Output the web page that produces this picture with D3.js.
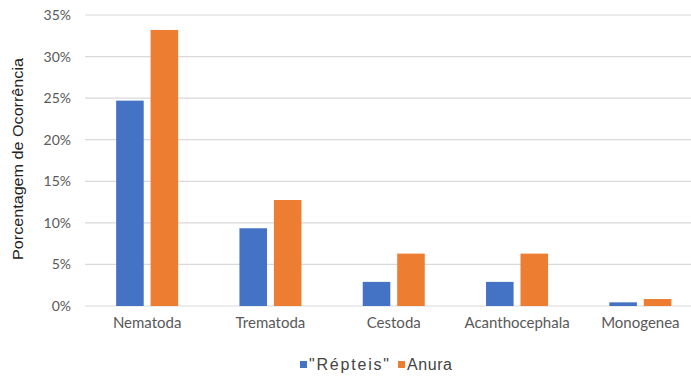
<!DOCTYPE html>
<html>
<head>
<meta charset="utf-8">
<script src="https://cdn.jsdelivr.net/npm/d3@7"></script>
<style>
  html, body { margin: 0; padding: 0; background: #fff; }
  svg { display: block; }
</style>
</head>
<body>
<svg id="chart" width="691" height="377"></svg>
<script>
// Parasite groups and their occurrence (%) in each host group
const categories = ["Nematoda", "Trematoda", "Cestoda", "Acanthocephala", "Monogenea"];
const seriesNames = ["\"Répteis\"", "Anura"];
const repteis = [24.7, 9.35, 2.9, 2.9, 0.44];
const anura = [33.2, 12.75, 6.3, 6.3, 0.84];
const yTicks = [0, 5, 10, 15, 20, 25, 30, 35];
const colors = ["#4472C4", "#ED7D31"];

const svg = d3.select("#chart");

const x0 = d3.scaleBand().domain(categories).range([85.5, 702]).paddingInner(0.497).paddingOuter(0.2485);
const x1 = d3.scaleBand().domain(seriesNames).range([0, x0.bandwidth()]).padding(0.2).paddingOuter(0);
const y = d3.scaleLinear().domain([0, 35]).range([306, 15]);

// Gridlines
svg.append("g")
  .selectAll("line")
  .data(yTicks)
  .join("line")
  .attr("x1", 85).attr("x2", 691)
  .attr("y1", d => y(d)).attr("y2", d => y(d))
  .attr("stroke", "#d9d9d9").attr("stroke-width", 1.2);

// Y axis labels
const yAxis = d3.axisLeft(y).tickValues(yTicks).tickFormat(d => d + "%").tickSize(0).tickPadding(0);
const gy = svg.append("g").attr("transform", "translate(71,0)").call(yAxis);
gy.select(".domain").remove();
gy.selectAll("text")
  .attr("fill", "#595959")
  .style("font-family", "Lato, 'Open Sans', sans-serif")
  .style("font-size", "14px");

// Bars
const rows = categories.map((c, i) => ({ cat: c, vals: [repteis[i], anura[i]] }));
const groups = svg.append("g").selectAll("g")
  .data(rows)
  .join("g")
  .attr("transform", d => `translate(${x0(d.cat)},0)`);

groups.selectAll("rect")
  .data(d => d.vals.map((v, j) => ({ name: seriesNames[j], v, j })))
  .join("rect")
  .attr("x", d => x1(d.name))
  .attr("width", x1.bandwidth())
  .attr("y", d => y(d.v))
  .attr("height", d => y(0) - y(d.v))
  .attr("fill", d => colors[d.j]);

// X axis labels
const xAxis = d3.axisBottom(x0).tickSize(0).tickPadding(0);
const gx = svg.append("g").attr("transform", "translate(0,317)").call(xAxis);
gx.select(".domain").remove();
gx.selectAll("text")
  .attr("fill", "#595959")
  .attr("dy", "0.71em")
  .style("font-family", "Lato, 'Open Sans', sans-serif")
  .style("font-size", "15px");

// Y axis title
svg.append("text")
  .attr("transform", "translate(23,159) rotate(-90)")
  .attr("text-anchor", "middle")
  .attr("fill", "#222")
  .attr("textLength", 202)
  .attr("lengthAdjust", "spacingAndGlyphs")
  .style("font-family", "'Liberation Sans', Arial, sans-serif")
  .style("font-size", "15px")
  .text("Porcentagem de Ocorrência");

// Legend
const legendX = [300, 398];
const legendLen = [80, 45];
const leg = svg.append("g").selectAll("g")
  .data(seriesNames)
  .join("g")
  .attr("transform", (d, i) => `translate(${legendX[i]},361)`);
leg.append("rect").attr("width", 7).attr("height", 7).attr("fill", (d, i) => colors[i]);
leg.append("text")
  .attr("x", 9).attr("y", 9)
  .attr("fill", "#444")
  .attr("textLength", (d, i) => legendLen[i])
  .attr("lengthAdjust", "spacing")
  .style("font-family", "'Liberation Sans', Arial, sans-serif")
  .style("font-size", "16px")
  .text(d => d);
</script>
</body>
</html>
